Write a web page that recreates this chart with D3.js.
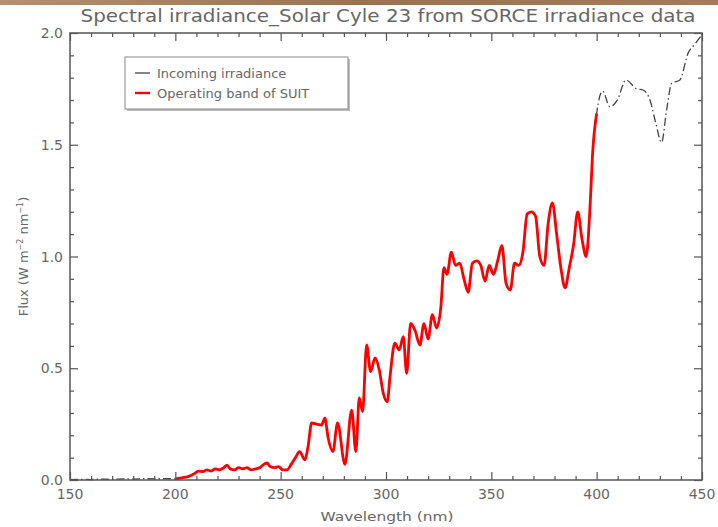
<!DOCTYPE html>
<html>
<head>
<meta charset="utf-8">
<script src="https://cdn.jsdelivr.net/npm/d3@7"></script>
<style>
  body { margin: 0; background: #fff; }
  svg text { font-family: "DejaVu Sans", sans-serif; fill: #666; }
</style>
</head>
<body>
<div id="chart"></div>
<script>
// incoming irradiance (nm, W m-2 nm-1)
var wavelength = [150, 155, 160, 165, 170, 175, 180, 185, 190, 195,
  200, 203, 206, 209, 211, 213, 215, 217, 219, 221, 223, 224.5, 226, 228, 230,
  232, 234, 236, 238, 240, 242, 243.5, 245, 247, 249, 251, 253, 255, 257, 259,
  261.5, 263, 264.7, 267, 269.4, 271, 272.5, 274.8, 277, 280.5, 283.7, 285.7,
  287.3, 288.9, 290.8, 292.7, 294.8, 296.8, 298.7, 300.6, 301.9, 304.2, 306.3,
  308.2, 309.8, 311.7, 313.7, 316.1, 318, 320, 322, 324, 326, 327.5, 329, 331,
  333, 335, 337, 339, 341, 343, 345, 347, 349, 351, 353, 355, 357, 359, 361,
  363, 365, 367, 369, 371, 373, 375, 377, 379, 381, 383, 385, 387, 389, 391,
  393, 395, 397, 398, 400,
  402.8, 406.3, 409.8, 413.9, 419, 422, 425.3, 428, 430.8, 433.2, 435.6,
  439.5, 443.4, 446.6, 449.8];
var flux = [0.002, 0.003, 0.002, 0.004, 0.003, 0.005, 0.004, 0.006, 0.005, 0.006,
  0.005, 0.01, 0.015, 0.028, 0.04, 0.038, 0.045, 0.04, 0.05, 0.045, 0.055, 0.067,
  0.05, 0.045, 0.055, 0.05, 0.055, 0.045, 0.05, 0.055, 0.07, 0.076, 0.06, 0.055,
  0.06, 0.045, 0.045, 0.07, 0.1, 0.127, 0.09, 0.15, 0.255, 0.25, 0.246, 0.277,
  0.19, 0.127, 0.255, 0.07, 0.313, 0.127, 0.367, 0.306, 0.604, 0.485, 0.546,
  0.492, 0.388, 0.35, 0.462, 0.612, 0.582, 0.641, 0.477, 0.701, 0.671, 0.604,
  0.70, 0.63, 0.74, 0.68, 0.77, 0.95, 0.92, 1.02, 0.96, 0.97, 0.90, 0.84, 0.97,
  0.98, 0.96, 0.89, 0.96, 0.92, 0.98, 1.05, 0.88, 0.85, 0.97, 0.96, 1.02, 1.19,
  1.20, 1.18, 1.00, 0.96, 1.15, 1.24, 1.10, 0.95, 0.86, 0.95, 1.05, 1.20, 1.08,
  1.00, 1.25, 1.45, 1.64,
  1.74, 1.67, 1.70, 1.79, 1.75, 1.745, 1.70, 1.60, 1.51, 1.655, 1.775,
  1.79, 1.91, 1.95, 1.99];

var suitBand = [200, 400];
var xTicks = [150, 200, 250, 300, 350, 400, 450];
var yTicks = [0.0, 0.5, 1.0, 1.5, 2.0];
var legendLabels = ['Incoming irradiance', 'Operating band of SUIT'];
var legendColors = ['#444', '#ff0000'];

var W = 718, H = 527;
var margin = { top: 33, right: 16, bottom: 47, left: 70 };
var width = W - margin.left - margin.right;
var height = H - margin.top - margin.bottom;

var svg = d3.select('#chart').append('svg')
  .attr('width', W)
  .attr('height', H);

// brownish strip of the photo behind the figure
var grad = svg.append('defs').append('linearGradient').attr('id', 'strip');
grad.append('stop').attr('offset', '0%').attr('stop-color', '#b58f70');
grad.append('stop').attr('offset', '50%').attr('stop-color', '#9a7252');
grad.append('stop').attr('offset', '100%').attr('stop-color', '#a37b5a');
svg.append('rect').attr('x', 0).attr('y', 0).attr('width', W).attr('height', 5)
  .attr('fill', 'url(#strip)');

var x = d3.scaleLinear().domain([150, 450]).range([0, width]);
var y = d3.scaleLinear().domain([0, 2]).range([height, 0]);

var g = svg.append('g')
  .attr('transform', 'translate(' + margin.left + ',' + margin.top + ')');

var pts = wavelength.map(function (w, i) { return { w: w, f: flux[i] }; });

var line = d3.line()
  .x(function (d) { return x(d.w); })
  .y(function (d) { return y(d.f); })
  .curve(d3.curveMonotoneX);

// incoming irradiance, dash-dot
g.append('path')
  .datum(pts)
  .attr('d', line)
  .attr('fill', 'none')
  .attr('stroke', '#444')
  .attr('stroke-width', 1.3)
  .attr('stroke-dasharray', '8,3,1.5,3');

// SUIT band
g.append('path')
  .datum(pts.filter(function (d) { return d.w >= suitBand[0] && d.w <= suitBand[1]; }))
  .attr('d', line)
  .attr('fill', 'none')
  .attr('stroke', '#ff0000')
  .attr('stroke-width', 2.8)
  .attr('stroke-linejoin', 'round');

// axes: ticks inward on all four sides
var minorX = d3.range(150, 451, 10);
var minorY = d3.range(0, 2.001, 0.1);
var axisColor = '#555';

function tickAxis(axisFn, scale, vals, len, transform) {
  var a = g.append('g').attr('transform', transform)
    .call(axisFn(scale).tickValues(vals).tickSize(len).tickFormat(''));
  a.select('.domain').remove();
  a.selectAll('line').attr('stroke', axisColor).attr('stroke-width', 1.2);
  return a;
}

var majX = xTicks;
var minX = minorX.filter(function (v) { return v % 50 !== 0; });
var majY = yTicks;
var minY = minorY.filter(function (v) { return Math.abs(v * 2 - Math.round(v * 2)) > 1e-6; });

tickAxis(d3.axisTop, x, majX, 8, 'translate(0,' + height + ')');
tickAxis(d3.axisTop, x, minX, 4, 'translate(0,' + height + ')');
tickAxis(d3.axisBottom, x, majX, 8, 'translate(0,0)');
tickAxis(d3.axisBottom, x, minX, 4, 'translate(0,0)');
tickAxis(d3.axisRight, y, majY, 8, 'translate(0,0)');
tickAxis(d3.axisRight, y, minY, 4, 'translate(0,0)');
tickAxis(d3.axisLeft, y, majY, 8, 'translate(' + width + ',0)');
tickAxis(d3.axisLeft, y, minY, 4, 'translate(' + width + ',0)');

g.append('rect')
  .attr('width', width).attr('height', height)
  .attr('fill', 'none').attr('stroke', axisColor).attr('stroke-width', 1.5);

// tick labels
g.selectAll('.xl').data(xTicks).enter().append('text')
  .attr('x', function (d) { return x(d); })
  .attr('y', height + 19)
  .attr('text-anchor', 'middle')
  .style('font-size', '14px')
  .text(function (d) { return d; });

g.selectAll('.yl').data(yTicks).enter().append('text')
  .attr('x', -7)
  .attr('y', function (d) { return y(d) + 5; })
  .attr('text-anchor', 'end')
  .style('font-size', '14px')
  .text(function (d) { return d.toFixed(1); });

// titles
svg.append('text')
  .attr('x', 388).attr('y', 22)
  .attr('text-anchor', 'middle')
  .attr('textLength', 615).attr('lengthAdjust', 'spacingAndGlyphs')
  .style('font-size', '17px')
  .text('Spectral irradiance_Solar Cyle 23 from SORCE irradiance data');

svg.append('text')
  .attr('x', 387).attr('y', 521)
  .attr('text-anchor', 'middle')
  .attr('textLength', 133).attr('lengthAdjust', 'spacingAndGlyphs')
  .style('font-size', '13px')
  .text('Wavelength (nm)');

var ylab = svg.append('text')
  .attr('transform', 'translate(28,' + (margin.top + height / 2) + ') rotate(-90)')
  .attr('text-anchor', 'middle')
  .style('font-size', '13px');
ylab.append('tspan').text('Flux (W m');
ylab.append('tspan').attr('dy', -5).style('font-size', '8px').text('\u22122');
ylab.append('tspan').attr('dy', 5).text(' nm');
ylab.append('tspan').attr('dy', -5).style('font-size', '8px').text('\u22121');
ylab.append('tspan').attr('dy', 5).text(')');

// legend
var lg = svg.append('g').attr('transform', 'translate(125,57)');
lg.append('rect').attr('x', 2).attr('y', 2).attr('width', 223).attr('height', 52)
  .attr('fill', '#bbb');
lg.append('rect').attr('width', 223).attr('height', 52)
  .attr('fill', '#fff').attr('stroke', '#888').attr('stroke-width', 1);

var items = lg.selectAll('.item').data(legendLabels).enter().append('g')
  .attr('transform', function (d, i) { return 'translate(0,' + (16 + i * 20) + ')'; });
items.append('line')
  .attr('x1', 10).attr('x2', 25).attr('y1', 0).attr('y2', 0)
  .attr('stroke', function (d, i) { return legendColors[i]; })
  .attr('stroke-width', function (d, i) { return i ? 2.4 : 1.3; });
items.append('text')
  .attr('x', 32).attr('y', 5)
  .style('font-size', '13px')
  .text(function (d) { return d; });
</script>
</body>
</html>
